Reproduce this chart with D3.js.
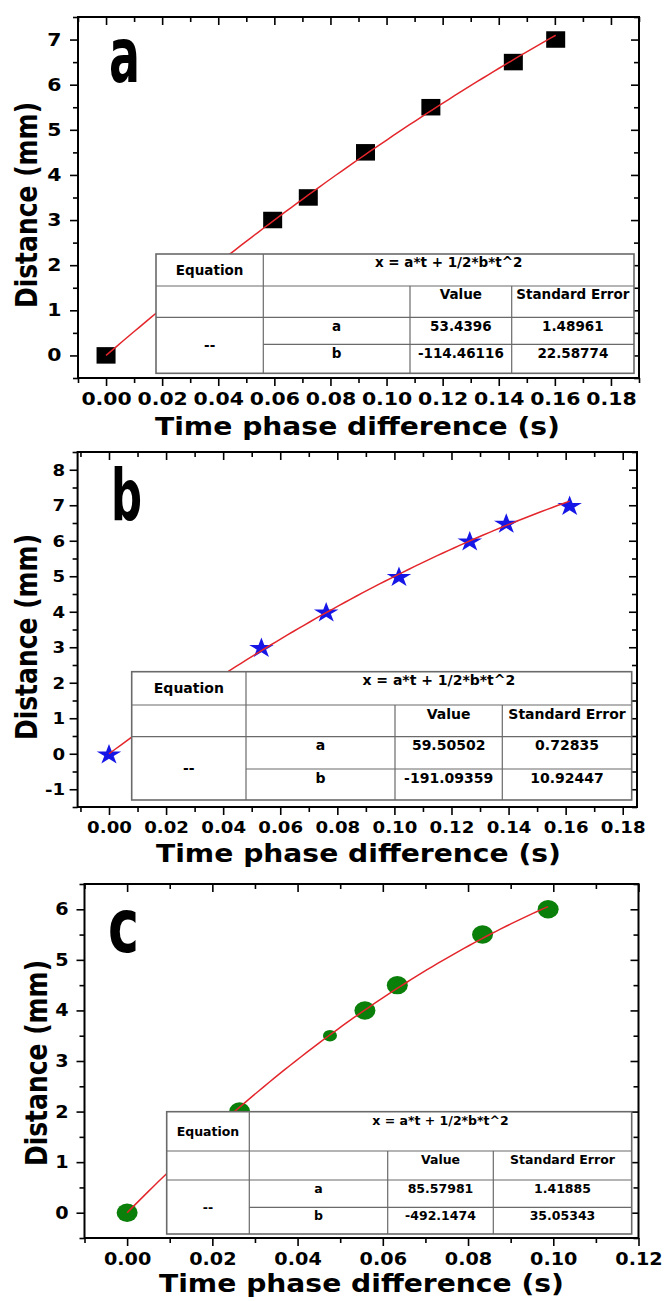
<!DOCTYPE html>
<html lang="en">
<head>
<meta charset="UTF-8">
<title>Distance vs time phase difference</title>
<script src="https://cdn.jsdelivr.net/npm/d3@7"></script>
<style>
  body { margin: 0; background: #fff; }
  svg { display: block; }
  text { font-family: "DejaVu Sans", Verdana, sans-serif; font-weight: bold; fill: #000; }
</style>
</head>
<body>
<script>
// ---- data ----
// panel a
const timeA = [0, 0.0594, 0.0721, 0.0925, 0.1158, 0.1452, 0.1603];
const distA = [0, 3, 3.5, 4.5, 5.5, 6.5, 7];
const fitA = ["53.4396", "-114.46116"];
const errA = ["1.48961", "22.58774"];
// panel b
const timeB = [0, 0.0534, 0.0761, 0.1016, 0.1264, 0.1392, 0.1614];
const distB = [0, 3, 4, 5, 6, 6.5, 7];
const fitB = ["59.50502", "-191.09359"];
const errB = ["0.72835", "10.92447"];
// panel c
const timeC = [0, 0.0264, 0.0476, 0.0558, 0.0634, 0.0834, 0.0988];
const distC = [0, 2, 3.5, 4, 4.5, 5.5, 6];
const fitC = ["85.57981", "-492.1474"];
const errC = ["1.41885", "35.05343"];

// tick labels
const xTicksAB = [0, 0.02, 0.04, 0.06, 0.08, 0.10, 0.12, 0.14, 0.16, 0.18];
const xTicksC = [0, 0.02, 0.04, 0.06, 0.08, 0.10, 0.12];
const yTicksA = [0, 1, 2, 3, 4, 5, 6, 7];
const yTicksB = [-1, 0, 1, 2, 3, 4, 5, 6, 7, 8];
const yTicksC = [0, 1, 2, 3, 4, 5, 6];

const equation = "x = a*t + 1/2*b*t^2";
const paramNames = ["a", "b"];
const xTitle = "Time phase difference (s)";
const yTitle = "Distance (mm)";

// ---- layout per panel ----
const panels = [
  { tag: "a", time: timeA, dist: distA, fit: fitA, err: errA, xTicks: xTicksAB, yTicks: yTicksA,
    xDom: [-0.01, 0.19], yDom: [-0.5, 7.5], box: [78, 639, 17, 378],
    marker: "square", color: "#000", font: 17, stretch: 1.2, xPad: 7, yPad: 8.5,
    tagPos: [109, 81.7, 77], yT: [37, 205], xT: [357.5, 435],
    cols: [156, 263.3, 410, 511.7, 634], rows: [254, 286, 317.3, 344.3, 373.3], tfont: 13.5 },
  { tag: "b", time: timeB, dist: distB, fit: fitB, err: errB, xTicks: xTicksAB, yTicks: yTicksB,
    xDom: [-0.011, 0.185], yDom: [-1.5, 8.5], box: [77.6, 637, 452, 807],
    marker: "star", color: "#1616e6", font: 16.5, stretch: 1.1, xPad: 6, yPad: 4.5,
    tagPos: [111, 520, 72], yT: [37, 637], xT: [358.5, 861.7],
    cols: [131.7, 246, 395, 502.3, 631.7], rows: [671.7, 705, 736.7, 769, 800], tfont: 14 },
  { tag: "c", time: timeC, dist: distC, fit: fitC, err: errC, xTicks: xTicksC, yTicks: yTicksC,
    xDom: [-0.01, 0.12], yDom: [-0.5, 6.5], box: [84.5, 638.5, 884, 1238],
    marker: "circle", color: "#0a7f0a", font: 17, stretch: 1.13, xPad: 7, yPad: 8,
    tagPos: [108, 952, 75], yT: [47, 1063], xT: [361.5, 1292], small: 2,
    cols: [166.7, 249.3, 387.7, 493.3, 631.7], rows: [1111.7, 1151, 1180, 1207.3, 1234], tfont: 12.5 }
];

const svg = d3.select("body").append("svg")
  .attr("width", 665)
  .attr("height", 1301);

function minors(majors, half, dom) {
  const m = majors.map(v => v + half).concat([majors[0] - half]);
  return m.filter(v => v >= dom[0] - 1e-9 && v <= dom[1] + 1e-9);
}

function stretchText(sel, k) {
  sel.each(function () {
    const w = this.getComputedTextLength();
    if (w > 0) {
      this.setAttribute("textLength", w * k);
      this.setAttribute("lengthAdjust", "spacingAndGlyphs");
    }
  });
}

function drawPanel(p) {
  const [L, R, T, B] = p.box;
  const x = d3.scaleLinear().domain(p.xDom).range([L, R]);
  const y = d3.scaleLinear().domain(p.yDom).range([B, T]);
  const g = svg.append("g");

  const xHalf = (p.xTicks[1] - p.xTicks[0]) / 2;
  const xMinor = minors(p.xTicks, xHalf, p.xDom);
  const yMinor = minors(p.yTicks, 0.5, p.yDom);

  // outward ticks + labels on bottom and left
  const bottom = g.append("g").attr("transform", `translate(0,${B})`)
    .call(d3.axisBottom(x).tickValues(p.xTicks).tickSize(8).tickSizeOuter(0)
      .tickPadding(p.xPad).tickFormat(d => d.toFixed(2)));
  g.append("g").attr("transform", `translate(0,${B})`)
    .call(d3.axisBottom(x).tickValues(xMinor).tickSize(5).tickSizeOuter(0).tickFormat(() => ""));
  const left = g.append("g").attr("transform", `translate(${L},0)`)
    .call(d3.axisLeft(y).tickValues(p.yTicks).tickSize(8).tickSizeOuter(0)
      .tickPadding(p.yPad).tickFormat(d => String(d)));
  g.append("g").attr("transform", `translate(${L},0)`)
    .call(d3.axisLeft(y).tickValues(yMinor).tickSize(5).tickSizeOuter(0).tickFormat(() => ""));

  // inward mirrored ticks on top and right
  g.append("g").attr("transform", `translate(0,${T})`)
    .call(d3.axisTop(x).tickValues(p.xTicks).tickSize(-8).tickSizeOuter(0).tickFormat(() => ""));
  g.append("g").attr("transform", `translate(0,${T})`)
    .call(d3.axisTop(x).tickValues(xMinor).tickSize(-5).tickSizeOuter(0).tickFormat(() => ""));
  g.append("g").attr("transform", `translate(${R},0)`)
    .call(d3.axisRight(y).tickValues(p.yTicks).tickSize(-8).tickSizeOuter(0).tickFormat(() => ""));
  g.append("g").attr("transform", `translate(${R},0)`)
    .call(d3.axisRight(y).tickValues(yMinor).tickSize(-5).tickSizeOuter(0).tickFormat(() => ""));

  g.selectAll(".domain").remove();
  g.selectAll(".tick line").attr("stroke", "#000").attr("stroke-width", 1.6);
  g.selectAll(".tick text").attr("font-size", p.font).attr("font-family", "DejaVu Sans")
    .attr("font-weight", "bold").attr("fill", "#000");
  stretchText(bottom.selectAll(".tick text"), p.stretch);
  stretchText(left.selectAll(".tick text"), p.stretch);

  // markers
  const pts = p.time.map((t, i) => ({ t, d: p.dist[i], i }));
  const mk = g.append("g");
  if (p.marker === "square") {
    mk.selectAll("rect").data(pts).join("rect")
      .attr("x", d => x(d.t) - 9.5).attr("y", d => y(d.d) - 8.3)
      .attr("width", 19).attr("height", 16.5)
      .attr("fill", p.color);
  } else if (p.marker === "star") {
    const star = d3.symbol(d3.symbolStar, 130);
    mk.selectAll("path").data(pts).join("path")
      .attr("d", star)
      .attr("transform", d => `translate(${x(d.t)},${y(d.d) + 1}) scale(1.2,1)`)
      .attr("fill", p.color);
  } else {
    mk.selectAll("ellipse").data(pts).join("ellipse")
      .attr("cx", d => x(d.t)).attr("cy", d => y(d.d))
      .attr("rx", d => d.i === p.small ? 7 : 10.5)
      .attr("ry", d => d.i === p.small ? 5.8 : 9.2)
      .attr("fill", p.color);
  }

  // fitted curve x = a*t + 1/2*b*t^2 with the table's parameters
  const a = +p.fit[0], b = +p.fit[1];
  const tMax = d3.max(p.time);
  const curve = d3.range(0, 81).map(i => {
    const t = tMax * i / 80;
    return [t, a * t + 0.5 * b * t * t];
  });
  g.append("path").datum(curve)
    .attr("d", d3.line().x(d => x(d[0])).y(d => y(d[1])))
    .attr("fill", "none").attr("stroke", "#e3262b").attr("stroke-width", 1.5);

  // parameter table
  const [c0, c1, c2, c3, c4] = p.cols;
  const [r0, r1, r2, r3, r4] = p.rows;
  const tb = g.append("g");
  tb.append("rect").attr("x", c0).attr("y", r0).attr("width", c4 - c0).attr("height", r4 - r0)
    .attr("fill", "#fff").attr("stroke", "#6a6a6a").attr("stroke-width", 1.6);
  const lines = [
    [c0, r1, c4, r1], [c0, r2, c4, r2], [c1, r3, c4, r3],
    [c1, r0, c1, r4], [c2, r1, c2, r4], [c3, r1, c3, r4]
  ];
  tb.selectAll("line").data(lines).join("line")
    .attr("x1", d => d[0]).attr("y1", d => d[1]).attr("x2", d => d[2]).attr("y2", d => d[3])
    .attr("stroke", "#6a6a6a").attr("stroke-width", 1.2);
  const cells = [
    ["Equation", (c0 + c1) / 2, (r0 + r1) / 2],
    [equation, (c1 + c4) / 2, r0 + 8.5],
    ["Value", (c2 + c3) / 2, r1 + 8.5],
    ["Standard Error", (c3 + c4) / 2, r1 + 8.5],
    ["--", (c0 + c1) / 2, (r2 + r4) / 2],
    [paramNames[0], (c1 + c2) / 2, r2 + 8.5],
    [p.fit[0], (c2 + c3) / 2, r2 + 8.5],
    [p.err[0], (c3 + c4) / 2, r2 + 8.5],
    [paramNames[1], (c1 + c2) / 2, r3 + 8.5],
    [p.fit[1], (c2 + c3) / 2, r3 + 8.5],
    [p.err[1], (c3 + c4) / 2, r3 + 8.5]
  ];
  tb.selectAll("text").data(cells).join("text")
    .attr("x", d => d[1]).attr("y", d => d[2]).attr("dy", "0.36em")
    .attr("text-anchor", "middle").attr("font-size", p.tfont)
    .text(d => d[0]);

  // frame
  g.append("rect").attr("x", L).attr("y", T).attr("width", R - L).attr("height", B - T)
    .attr("fill", "none").attr("stroke", "#000").attr("stroke-width", 2);

  // panel letter
  const tag = g.append("text")
    .attr("x", p.tagPos[0]).attr("y", p.tagPos[1])
    .attr("font-family", "'Liberation Sans Narrow', 'Liberation Sans', sans-serif")
    .attr("font-size", p.tagPos[2])
    .text(p.tag);
  tag.attr("textLength", 31).attr("lengthAdjust", "spacingAndGlyphs");

  // axis titles
  g.append("text")
    .attr("x", p.xT[0]).attr("y", p.xT[1])
    .attr("text-anchor", "middle").attr("font-size", 25.5)
    .attr("textLength", 405).attr("lengthAdjust", "spacingAndGlyphs")
    .text(xTitle);
  g.append("text")
    .attr("transform", `translate(${p.yT[0]},${p.yT[1]}) scale(1.22,1) rotate(-90)`)
    .attr("text-anchor", "middle").attr("font-size", 25)
    .text(yTitle);
}

panels.forEach(drawPanel);
</script>
</body>
</html>
